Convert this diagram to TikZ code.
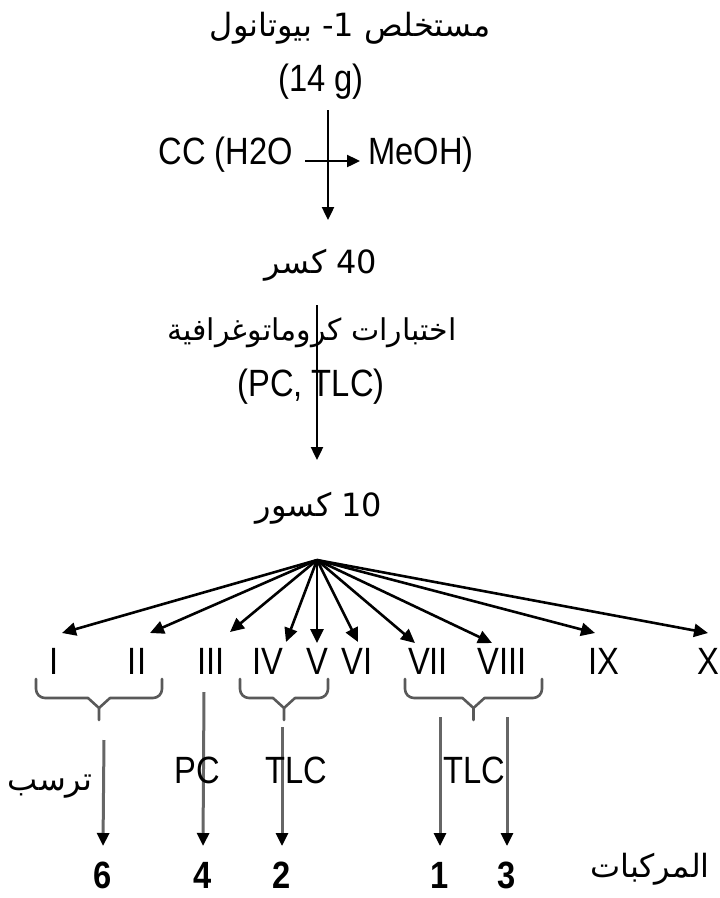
\documentclass[tikz,border=0pt]{standalone}
\usepackage{fontspec}
\setmainfont[FakeStretch=0.86]{Liberation Sans}
\newfontfamily\arabicfont[Script=Arabic]{DejaVu Sans}
\TeXXeTstate=1
\usetikzlibrary{arrows.meta,calc}

\newcommand\latsize{\fontsize{38}{44}\selectfont}
\newcommand\arsize{\fontsize{32}{40}\selectfont}

\tikzset{
  lat/.style={inner sep=0pt, font=\latsize},
  arab/.style={inner sep=0pt, font=\arabicfont\arsize},
  num/.style={inner sep=0pt, font=\latsize\bfseries},
  arr/.style={line width=2.4pt, -{Triangle[length=13pt,width=12pt]}},
  fan/.style={line width=2.6pt, -{Triangle[length=14pt,width=13pt]}},
  low/.style={line width=3pt, black!60, -{Triangle[length=13pt,width=12pt,color=black]}},
  curlyline/.style={line width=2.6pt, black!65, line join=round, line cap=round},
}

% a downward curly brace between two named coordinates
\newcommand\groupbrace[2]{%
  \draw[curlyline] (#1) -- ++(0,10) to[out=-90,in=180] ++(9,9)
    -- ($(#1)!0.5!(#2)+(-11,19)$) -- ($(#1)!0.5!(#2)+(0,29)$) -- ++(0,12);
  \draw[curlyline] (#2) -- ++(0,10) to[out=-90,in=0] ++(-9,9)
    -- ($(#1)!0.5!(#2)+(11,19)$) -- ($(#1)!0.5!(#2)+(0,29)$);
}

\begin{document}
\begin{tikzpicture}[x=1pt, y=-1pt]
\useasboundingbox (0,0) rectangle (720,898);

% extraction and column chromatography
\node[arab] (ext) at (350,28) {\beginR مستخلص \beginL 1-\endL{} بيوتانول\endR};
\node[lat] (mass) at (321,82) {(14 g)};
\coordinate (cc1) at (328,110);
\coordinate (cc2) at (328,220);
\draw[arr] (cc1) -- (cc2);
\node[lat, anchor=east] (cc) at (293,155) {CC (H2O};
\node[lat, anchor=west] (meoh) at (368,155) {MeOH)};
\coordinate (g1) at (305,161);
\coordinate (g2) at (360,161);
\draw[arr] (g1) -- (g2);

% 40 fractions -> 10 fractions
\node[arab] (f40) at (321,265) {\beginR\beginL 40\endL{} كسر\endR};
\coordinate (t1) at (317,305);
\coordinate (t2) at (317,460);
\draw[arr] (t1) -- (t2);
\node[arab, font=\arabicfont\fontsize{30}{38}\selectfont] (chrom) at (312,333) {\beginR اختبارات كروماتوغرافية\endR};
\node[lat] (pctlc) at (311,387) {(PC, TLC)};
\node[arab] (f10) at (319,508) {\beginR\beginL 10\endL{} كسور\endR};

% the ten fractions
\coordinate (hub) at (317,560);
\foreach \name/\x in {I/54, II/137, III/211, IV/268, V/317, VI/357,
                      VII/428, VIII/502, IX/604, X/708}
  \node[lat] (n\name) at (\x,661) {\name};
\foreach \name/\x/\y in {I/62/633, II/150/633, III/230/632, IV/286/642,
                         V/317/643, VI/358/642, VII/415/643, VIII/492/643,
                         IX/595/633, X/708/633} {
  \coordinate (e\name) at (\x,\y);
  \draw[fan] (hub) -- (e\name);
}

% groupings
\coordinate (b1a) at (36,679);  \coordinate (b1b) at (162,679);
\coordinate (b2a) at (240,679); \coordinate (b2b) at (328,679);
\coordinate (b3a) at (405,679); \coordinate (b3b) at (542,679);
\groupbrace{b1a}{b1b}
\groupbrace{b2a}{b2b}
\groupbrace{b3a}{b3b}

% compounds
\node[num] (c6) at (103,875) {6};
\node[num] (c4) at (203,875) {4};
\node[num] (c2) at (282,875) {2};
\node[num] (c1) at (440,875) {1};
\node[num] (c3) at (507,875) {3};
\node[arab] (comp) at (650,869) {\beginR المركبات\endR};

\coordinate (s6) at (104,740);
\coordinate (s4) at (204,692);
\coordinate (s2) at (282,727);
\coordinate (s1) at (440,717);
\coordinate (s3) at (507,717);
\draw[low] (s6) -- (c6.north |- 0,846);
\draw[low] (s4) -- (c4.north |- 0,846);
\draw[low] (s2) -- (c2.north |- 0,846);
\draw[low] (s1) -- (c1.north |- 0,846);
\draw[low] (s3) -- (c3.north |- 0,846);

\node[arab] (prec) at (50,787) {\beginR ترسب\endR};
\node[lat] (pc) at (197,770) {PC};
\node[lat] (tlc1) at (296,770) {TLC};
\node[lat] (tlc2) at (474,770) {TLC};
\end{tikzpicture}
\end{document}
